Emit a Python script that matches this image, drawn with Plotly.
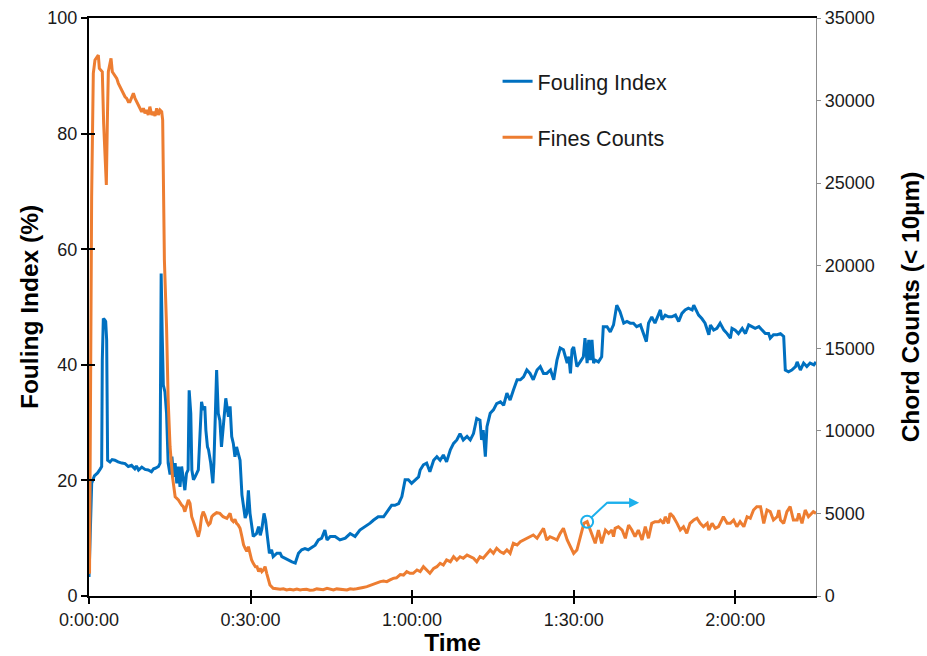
import plotly.graph_objects as go

# ---------------- data ----------------
# Fouling Index (%) vs time (minutes)
fi_time = [0.0, 0.5, 1.0, 1.6, 2.1, 2.35, 2.47, 2.66, 2.9, 3.1, 3.28, 3.46, 3.9, 4.3, 4.8, 5.4, 6.1,
           6.7, 7.3, 7.9, 8.5, 8.8, 9.2, 9.8, 10.4, 11.0, 11.6, 12.0, 12.3, 12.9, 13.2, 13.4, 13.6,
           13.8, 14.1, 14.4, 14.7, 15.05, 15.4, 15.7, 16.0, 16.3, 16.6, 16.9, 17.2, 17.5, 17.8, 18.1,
           18.4, 18.6, 18.9, 19.1, 19.4, 19.7, 20.3, 20.9, 21.2, 21.5, 21.7, 22.0, 22.2, 22.6, 23.0,
           23.2, 23.7, 24.0, 24.3, 24.6, 24.9, 25.4, 25.9, 26.2, 26.5, 26.8, 27.1, 27.4, 27.7, 28.05,
           28.4, 28.7, 29.0, 29.3, 29.6, 29.9, 30.2, 30.5, 31.1, 31.5, 31.8, 32.1, 32.5, 32.8, 33.1,
           33.5, 33.9, 34.2, 34.9, 35.5, 35.8, 36.4, 37.0, 37.7, 38.3, 38.9, 39.5, 40.1, 40.7, 41.4,
           42.0, 42.6, 43.2, 43.8, 44.2, 44.8, 45.7, 46.6, 47.6, 48.5, 49.4, 50.3, 51.3, 52.2, 52.8,
           53.7, 54.7, 55.6, 56.2, 56.8, 57.5, 58.1, 58.7, 59.3, 59.9, 60.6, 61.2, 61.5, 62.1, 62.7,
           63.3, 64.0, 64.6, 65.2, 65.8, 66.4, 67.1, 67.7, 68.3, 68.9, 69.5, 70.2, 70.8, 71.4, 72.0,
           72.6, 72.9, 73.2, 73.6, 73.9, 74.5, 75.1, 75.7, 76.4, 77.0, 77.6, 78.2, 78.8, 79.5, 80.1,
           80.7, 81.3, 81.9, 82.5, 83.2, 83.8, 84.4, 85.0, 85.7, 86.3, 86.9, 87.5, 88.1, 88.8, 89.1,
           89.4, 89.7, 90.0, 90.6, 91.2, 91.8, 92.1, 92.5, 92.8, 93.1, 93.4, 93.7, 94.0, 94.6, 95.2,
           95.5, 96.2, 96.8, 97.4, 98.0, 98.6, 99.3, 99.9, 100.5, 101.1, 101.7, 102.4, 103.0, 103.5,
           103.9, 104.2, 104.5, 105.1, 105.8, 106.1, 106.4, 107.0, 107.6, 108.2, 108.9, 109.5, 110.1,
           110.7, 111.3, 112.0, 112.3, 112.6, 113.2, 113.8, 114.4, 115.1, 115.4, 116.0, 116.6, 117.2,
           117.9, 118.5, 119.1, 119.4, 120.0, 120.6, 121.3, 121.9, 122.5, 123.1, 123.7, 124.4, 125.0,
           125.6, 126.2, 126.5, 127.1, 127.8, 128.4, 129.0, 129.3, 129.9, 130.5, 131.2, 131.5, 132.1,
           132.7, 133.3, 133.9, 134.6, 135.0]
fi_value = [3.3, 19.5, 20.8, 21.3, 22.0, 22.4, 40.8, 48.0, 47.8, 47.5, 44.3, 23.5, 23.2, 23.6, 23.5,
            23.2, 23.0, 22.9, 22.4, 22.6, 22.0, 22.5, 21.8, 22.3, 21.9, 21.8, 21.5, 22.0, 22.1, 22.4,
            23.0, 55.8, 45.0, 36.5, 35.3, 31.6, 23.0, 21.0, 24.1, 20.6, 23.0, 19.5, 22.4, 18.9, 22.4,
            20.6, 18.3, 21.2, 21.8, 35.6, 31.6, 21.8, 20.1, 20.6, 21.8, 33.6, 32.2, 32.8, 28.7, 25.8,
            25.3, 23.0, 19.5, 23.0, 39.1, 31.6, 30.4, 25.8, 28.7, 34.2, 31.0, 32.8, 27.6, 26.4, 24.1,
            25.8, 24.7, 23.5, 17.5, 15.2, 13.5, 14.3, 18.3, 14.3, 12.0, 10.3, 10.8, 12.0, 10.5, 11.6,
            14.3, 13.0, 10.5, 7.4, 8.0, 6.8, 7.4, 7.4, 6.8, 6.5, 6.2, 5.9, 5.7, 7.4, 8.0, 8.2, 8.0,
            8.5, 8.8, 9.7, 10.0, 11.4, 9.7, 10.3, 10.3, 9.7, 10.0, 10.8, 10.3, 11.4, 12.0, 12.6, 13.1,
            13.7, 13.7, 14.9, 15.7, 15.7, 16.0, 17.2, 20.1, 20.1, 19.5, 20.1, 20.6, 21.8, 22.7, 23.0,
            21.5, 23.5, 24.1, 23.5, 24.4, 23.2, 25.3, 26.4, 27.0, 28.1, 27.0, 27.6, 27.0, 28.1, 30.7,
            30.4, 27.0, 28.7, 24.1, 29.3, 31.6, 32.2, 33.3, 33.6, 33.0, 35.1, 33.9, 35.6, 37.4, 37.4,
            37.9, 39.1, 38.5, 37.4, 39.1, 39.7, 38.5, 38.5, 39.1, 37.4, 40.8, 42.9, 42.6, 40.3, 41.4,
            38.5, 42.6, 43.1, 39.7, 40.5, 41.4, 44.6, 40.3, 44.3, 40.8, 44.3, 40.3, 40.8, 40.5, 41.4,
            46.6, 46.6, 45.7, 46.9, 50.3, 49.2, 47.2, 47.5, 47.2, 47.2, 46.6, 46.9, 45.4, 44.0, 47.2,
            47.8, 48.3, 47.2, 48.9, 49.5, 47.8, 48.6, 48.3, 48.3, 48.6, 47.5, 48.9, 49.5, 49.8, 49.5,
            50.3, 49.8, 48.6, 48.0, 47.2, 45.2, 46.9, 46.0, 46.3, 47.2, 46.0, 45.4, 44.6, 46.3, 46.0,
            45.4, 46.3, 45.4, 46.9, 46.6, 46.3, 46.6, 46.0, 45.4, 45.4, 44.6, 45.2, 45.2, 45.4, 44.9,
            39.1, 38.8, 39.1, 39.7, 40.5, 39.1, 40.3, 39.7, 40.3, 40.0, 40.5]

# Fines counts (chord counts < 10 um) vs time (minutes)
fc_time = [0.0, 0.1, 0.49, 0.8, 1.11, 1.42, 1.73, 1.92, 2.23, 2.47, 2.72, 2.97, 3.22, 3.4, 3.59, 3.9,
           4.09, 4.33, 4.71, 5.15, 5.45, 5.76, 6.07, 6.38, 6.69, 7.0, 7.3, 7.6, 7.93, 8.24, 8.55, 8.86,
           9.17, 9.47, 9.78, 10.1, 10.4, 10.7, 11.0, 11.3, 11.65, 11.95, 12.26, 12.57, 12.87, 13.19,
           13.5, 13.68, 13.93, 14.0, 14.4, 14.7, 15.05, 15.5, 16.0, 16.6, 17.2, 17.5, 17.8, 18.1,
           18.45, 18.76, 19.07, 19.4, 19.7, 20.0, 20.3, 20.6, 20.9, 21.2, 21.5, 21.9, 22.2, 22.5,
           22.8, 23.1, 23.7, 24.3, 24.9, 25.6, 26.2, 26.5, 26.8, 27.1, 27.4, 27.7, 28.05, 28.4, 28.7,
           29.0, 29.3, 29.6, 29.9, 30.2, 30.5, 30.9, 31.2, 31.5, 31.8, 32.1, 32.4, 32.7, 33.0, 33.3,
           33.6, 34.2, 34.8, 35.5, 36.1, 36.7, 37.3, 37.95, 38.6, 39.2, 39.8, 40.4, 41.0, 41.7, 42.3,
           42.9, 43.5, 44.2, 44.8, 45.4, 46.0, 46.6, 47.2, 47.9, 48.5, 49.1, 49.7, 50.3, 50.9, 51.6,
           52.2, 52.8, 53.4, 54.1, 54.7, 55.3, 55.9, 56.5, 57.1, 57.8, 58.4, 59.0, 59.6, 60.2, 60.9,
           61.5, 62.1, 62.7, 63.3, 64.0, 64.6, 65.2, 65.8, 66.4, 67.1, 67.7, 68.3, 68.9, 69.5, 70.2,
           70.8, 71.4, 72.0, 72.6, 73.2, 73.9, 74.5, 75.1, 75.7, 76.4, 77.0, 77.6, 78.2, 78.8, 79.5,
           80.1, 80.7, 81.3, 81.9, 82.5, 83.2, 83.8, 84.4, 85.0, 85.6, 86.3, 86.9, 87.5, 88.1, 88.8,
           89.4, 90.0, 90.6, 91.2, 91.9, 92.5, 93.1, 93.7, 94.0, 94.6, 95.2, 95.9, 96.5, 97.1, 97.4,
           97.7, 98.3, 99.0, 99.6, 100.2, 100.8, 101.4, 102.0, 102.7, 103.3, 103.9, 104.5, 105.1,
           105.8, 106.1, 106.7, 107.0, 107.6, 107.9, 108.5, 109.2, 109.8, 110.4, 111.0, 111.6, 112.3,
           112.9, 113.5, 114.1, 114.8, 115.1, 115.7, 116.3, 116.9, 117.5, 117.8, 118.5, 119.1, 119.7,
           120.3, 120.9, 121.6, 122.2, 122.8, 123.4, 124.0, 124.7, 125.0, 125.3, 125.9, 126.5, 127.1,
           127.8, 128.1, 128.4, 129.0, 129.6, 130.2, 130.8, 131.5, 131.8, 132.4, 133.0, 133.6, 134.5,
           135.0]
fc_value = [1400, 1375, 24180, 31650, 32455, 32655, 32760, 31950, 31850, 31745, 28620, 27005, 24885,
            28620, 31745, 32255, 32560, 31745, 31545, 31345, 31045, 30840, 30640, 30440, 30230, 30135,
            29930, 29930, 30230, 30440, 30135, 29930, 29730, 29530, 29325, 29530, 29230, 29430, 29125,
            29630, 29125, 29325, 29065, 29530, 29125, 29430, 29325, 28820, 24180, 20345, 16305, 11870,
            9040, 7225, 6010, 5813, 5510, 5410, 5105, 5410, 5813, 5610, 4800, 4500, 4195, 3795, 3590,
            3995, 4800, 5105, 4905, 4500, 4300, 4400, 4800, 4905, 5045, 5005, 4800, 4700, 5005, 4600,
            4500, 4645, 4400, 4300, 4100, 3590, 3100, 2890, 2700, 2985, 2500, 2180, 1980, 1775, 1775,
            1475, 1675, 1475, 1575, 1775, 1375, 970, 665, 465, 420, 405, 440, 365, 400, 365, 420, 365,
            400, 405, 350, 365, 430, 405, 380, 465, 400, 365, 430, 405, 380, 365, 440, 405, 440, 465,
            520, 565, 640, 725, 800, 870, 900, 870, 980, 1070, 1100, 1300, 1270, 1475, 1375, 1375,
            1575, 1475, 1775, 1575, 1375, 1675, 1775, 1980, 1875, 2180, 2075, 2380, 2180, 2380, 2285,
            2480, 2380, 2285, 2075, 2380, 2285, 2585, 2785, 2585, 2890, 2680, 2585, 2785, 2585, 3190,
            3090, 3290, 3390, 3495, 3590, 3695, 3495, 3795, 4100, 3390, 3590, 3495, 3390, 3795, 4100,
            3390, 2985, 2585, 2785, 3590, 4400, 4500, 3995, 3400, 3190, 3995, 3190, 3995, 3795, 3995,
            3590, 4100, 4195, 3995, 3495, 4300, 3995, 3590, 3995, 3390, 4195, 3495, 4400, 4500, 4500,
            4600, 4400, 4800, 4400, 5005, 4800, 4400, 3995, 4195, 3795, 4400, 4600, 4705, 4400, 4195,
            4400, 3995, 4400, 4100, 4195, 4600, 4800, 4400, 4400, 4600, 4195, 4500, 4195, 4800, 4705,
            5207, 5410, 5410, 4905, 4400, 5207, 5105, 4600, 4800, 5207, 4600, 4400, 5105, 5410, 4600,
            4600, 5005, 4400, 5207, 4800, 5105, 5005]

tick_minutes = [0, 30, 60, 90, 120]
tick_labels = ["0:00:00", "0:30:00", "1:00:00", "1:30:00", "2:00:00"]

series_names = ["Fouling Index", "Fines Counts"]
x_title = "Time"
y_left_title = "Fouling Index (%)"
y_right_title = "Chord Counts (< 10µm)"

# ---------------- styling ----------------
BLUE = "#0070C0"
ORANGE = "#ED7D31"
CYAN = "#1CB0EC"
FONT = "Arial, Liberation Sans, sans-serif"
TXT = "#1a1a1a"

fig = go.Figure()
fig.add_trace(go.Scatter(x=fi_time, y=fi_value, name=series_names[0], mode="lines",
                         line=dict(color=BLUE, width=3), legendgroup="a"))
fig.add_trace(go.Scatter(x=fc_time, y=fc_value, name=series_names[1], mode="lines",
                         line=dict(color=ORANGE, width=3), yaxis="y2", legendgroup="b"))
# empty helper trace for the overlay axes that give the "cross" ticks
fig.add_trace(go.Scatter(x=[], y=[], xaxis="x3", yaxis="y3", showlegend=False, hoverinfo="skip"))

# annotation marker on the fines curve (points to the right axis)
win = [i for i, t in enumerate(fc_time) if 90 <= t <= 93]
pk = max(win, key=lambda i: fc_value[i])
px_t, px_c = fc_time[pk], fc_value[pk]

fig.add_shape(type="circle", xref="x", yref="y2", xsizemode="pixel", ysizemode="pixel",
              xanchor=px_t, yanchor=px_c, x0=-6, x1=6, y0=-6, y1=6,
              line=dict(color=CYAN, width=2), fillcolor="rgba(0,0,0,0)")
fig.add_shape(type="path", xref="x", yref="y2", xsizemode="pixel", ysizemode="pixel",
              xanchor=px_t, yanchor=px_c, path="M 4.5 4.5 L 20 19 L 46 19",
              line=dict(color=CYAN, width=2))
fig.add_annotation(x=px_t, y=px_c, xref="x", yref="y2", text="", showarrow=True,
                   xshift=52, yshift=19, ax=-33, ay=0, arrowhead=2, arrowsize=1,
                   arrowwidth=2, arrowcolor=CYAN)

axis_font = dict(family=FONT, size=18, color=TXT)
title_font = dict(family=FONT, size=24.5, color="#000000")

fig.update_layout(
    width=927, height=656,
    margin=dict(l=89, r=111, t=18, b=60, autoexpand=False),
    paper_bgcolor="white", plot_bgcolor="white",
    font=dict(family=FONT, color=TXT),
    showlegend=True,
    legend=dict(x=0.562, y=0.926, xanchor="left", yanchor="top",
                font=dict(family=FONT, size=21.5, color=TXT),
                bgcolor="rgba(0,0,0,0)", tracegroupgap=25, itemwidth=30),
    xaxis=dict(range=[0, 135], tickmode="array", tickvals=tick_minutes, ticktext=tick_labels,
               ticks="outside", ticklen=6, tickwidth=2, tickcolor="#000",
               showline=True, linecolor="#000", linewidth=2, mirror=True,
               showgrid=False, zeroline=False, tickfont=axis_font, automargin=False,
               title=dict(text="<b>%s</b>" % x_title, font=title_font, standoff=4)),
    xaxis3=dict(overlaying="x", matches="x", anchor="y3", side="bottom",
                tickmode="array", tickvals=tick_minutes, ticks="inside", ticklen=6,
                tickwidth=2, tickcolor="#000", showticklabels=False, showline=False,
                showgrid=False, zeroline=False, automargin=False),
    yaxis=dict(range=[0, 100], dtick=20, ticks="outside", ticklen=6, tickwidth=1.5,
               tickcolor="#000", showline=True, linecolor="#000", linewidth=2,
               showgrid=False, zeroline=False, tickfont=axis_font, automargin=False,
               title=dict(text="<b>%s</b>" % y_left_title, font=title_font, standoff=2)),
    yaxis3=dict(overlaying="y", matches="y", anchor="x3", side="left", dtick=20,
                ticks="inside", ticklen=6, tickwidth=1.5, tickcolor="#000",
                showticklabels=False, showline=False, showgrid=False, zeroline=False,
                automargin=False),
    yaxis2=dict(range=[0, 35000], dtick=5000, tickformat="d", overlaying="y", side="right",
                anchor="x", ticks="outside", ticklen=4, tickwidth=1, tickcolor="#8c8c8c",
                showline=True, linecolor="#8c8c8c", linewidth=1.2,
                showgrid=False, zeroline=False, tickfont=axis_font, automargin=False,
                title=dict(text="<b>%s</b>" % y_right_title, font=title_font, standoff=28)),
)

fig.write_html("out.html")
